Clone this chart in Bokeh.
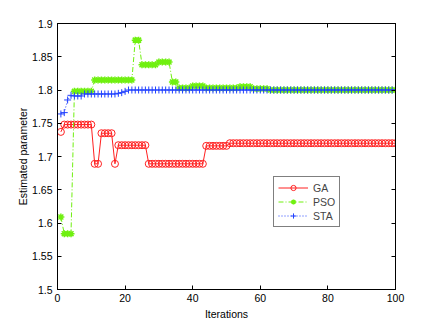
from bokeh.plotting import figure
from bokeh.models import (FixedTicker, LinearAxis, Legend, LegendItem,
                          ColumnDataSource, CustomJSTickFormatter)
from bokeh.embed import file_html
from bokeh.resources import INLINE

iterations = list(range(1, 101))

ga = [1.737,
      1.748, 1.748, 1.748, 1.748, 1.748, 1.748, 1.748, 1.748, 1.748,
      1.689, 1.689,
      1.735, 1.735, 1.735, 1.735,
      1.689,
      1.717, 1.717, 1.717, 1.717, 1.717, 1.717, 1.717, 1.717, 1.717,
      1.689, 1.689, 1.689, 1.689, 1.689, 1.689, 1.689, 1.689, 1.689,
      1.689, 1.689, 1.689, 1.689, 1.689, 1.689, 1.689, 1.689,
      1.716, 1.716, 1.716, 1.716, 1.716, 1.716, 1.716,
      1.720, 1.720, 1.720, 1.720, 1.720, 1.720, 1.720, 1.720, 1.720, 1.720,
      1.720, 1.720, 1.720, 1.720, 1.720, 1.720, 1.720, 1.720, 1.720, 1.720,
      1.720, 1.720, 1.720, 1.720, 1.720, 1.720, 1.720, 1.720, 1.720, 1.720,
      1.720, 1.720, 1.720, 1.720, 1.720, 1.720, 1.720, 1.720, 1.720, 1.720,
      1.720, 1.720, 1.720, 1.720, 1.720, 1.720, 1.720, 1.720, 1.720, 1.720]

pso = [1.609,
       1.584, 1.584, 1.584,
       1.798, 1.798, 1.798, 1.798, 1.798, 1.798,
       1.815, 1.815, 1.815, 1.815, 1.815, 1.815, 1.815, 1.815, 1.815, 1.815, 1.815, 1.815,
       1.875, 1.875,
       1.838, 1.838, 1.838, 1.838, 1.838,
       1.842, 1.842, 1.842, 1.842,
       1.812, 1.812,
       1.803, 1.803, 1.803, 1.803,
       1.806, 1.806, 1.806, 1.806,
       1.803, 1.803, 1.803, 1.803, 1.803, 1.803, 1.803, 1.803, 1.803, 1.803,
       1.805, 1.805, 1.805, 1.805,
       1.802, 1.802, 1.802, 1.802, 1.802,
       1.800, 1.800, 1.800, 1.800, 1.800, 1.800, 1.800, 1.800, 1.800, 1.800,
       1.800, 1.800, 1.800, 1.800, 1.800, 1.800, 1.800, 1.800, 1.800, 1.800,
       1.800, 1.800, 1.800, 1.800, 1.800, 1.800, 1.800, 1.800, 1.800, 1.800,
       1.800, 1.800, 1.800, 1.800, 1.800, 1.800, 1.800, 1.800]

sta = [1.764, 1.766, 1.785, 1.792,
       1.791, 1.791, 1.791,
       1.794, 1.794, 1.794, 1.794, 1.794, 1.794, 1.794, 1.794, 1.794, 1.794,
       1.795, 1.796, 1.798,
       1.800, 1.800, 1.800, 1.800, 1.800, 1.800, 1.800, 1.800, 1.800, 1.800,
       1.800, 1.800, 1.800, 1.800, 1.800, 1.800, 1.800, 1.800, 1.800, 1.800,
       1.800, 1.800, 1.800, 1.800, 1.800, 1.800, 1.800, 1.800, 1.800, 1.800,
       1.800, 1.800, 1.800, 1.800, 1.800, 1.800, 1.800, 1.800, 1.800, 1.800,
       1.800, 1.800, 1.800, 1.800, 1.800, 1.800, 1.800, 1.800, 1.800, 1.800,
       1.800, 1.800, 1.800, 1.800, 1.800, 1.800, 1.800, 1.800, 1.800, 1.800,
       1.800, 1.800, 1.800, 1.800, 1.800, 1.800, 1.800, 1.800, 1.800, 1.800,
       1.800, 1.800, 1.800, 1.800, 1.800, 1.800, 1.800, 1.800, 1.800, 1.800]

x_ticks = [0, 20, 40, 60, 80, 100]
y_ticks = [1.5, 1.55, 1.6, 1.65, 1.7, 1.75, 1.8, 1.85, 1.9]
y_tick_labels = ["1.5", "1.55", "1.6", "1.65", "1.7", "1.75", "1.8", "1.85", "1.9"]
series_names = ["GA", "PSO", "STA"]
x_label = "Iterations"
y_label = "Estimated parameter"

FONT = "Liberation Sans"
RED = "#ff2020"
GREEN = "#70f010"
BLUE = "#2040ff"

p = figure(width=430, height=322, x_range=(0, 100), y_range=(1.5, 1.9),
           output_backend="svg", toolbar_location=None,
           min_border_left=57, min_border_right=35,
           min_border_top=23, min_border_bottom=32)
p.xgrid.visible = False
p.ygrid.visible = False
p.outline_line_color = "black"
p.outline_line_width = 1
p.background_fill_color = "white"
p.border_fill_color = "white"

src = ColumnDataSource(dict(x=iterations, ga=ga, pso=pso, sta=sta))

ga_l = p.line("x", "ga", source=src, line_color=RED, line_width=1)
ga_m = p.scatter("x", "ga", source=src, marker="circle", size=7,
                 line_color=RED, fill_color=None, line_width=1)
pso_l = p.line("x", "pso", source=src, line_color=GREEN, line_width=1,
               line_dash="5 2 1 2")
pso_m = p.scatter("x", "pso", source=src, marker="asterisk", size=7,
                  line_color=GREEN, line_width=1.5)
sta_l = p.line("x", "sta", source=src, line_color=BLUE, line_width=1,
               line_dash="1 2")
sta_m = p.scatter("x", "sta", source=src, marker="cross", size=7,
                  line_color=BLUE, line_width=1)


def style_axis(ax, ticks):
    ax.ticker = FixedTicker(ticks=ticks)
    ax.major_tick_in = 4
    ax.major_tick_out = 0
    ax.minor_tick_line_color = None
    ax.axis_line_color = "black"
    ax.major_tick_line_color = "black"
    ax.major_label_text_font = FONT
    ax.major_label_text_font_size = "10.5px"
    ax.major_label_text_color = "black"
    ax.axis_label_text_font = FONT
    ax.axis_label_text_font_size = "10.5px"
    ax.axis_label_text_font_style = "normal"
    ax.axis_label_text_color = "black"


style_axis(p.xaxis[0], x_ticks)
style_axis(p.yaxis[0], y_ticks)
p.xaxis[0].axis_label = x_label
p.yaxis[0].axis_label = y_label
p.xaxis[0].major_label_standoff = 4
p.xaxis[0].axis_label_standoff = 3
p.yaxis[0].major_label_standoff = 5
p.yaxis[0].axis_label_standoff = 0
p.yaxis[0].major_label_overrides = {t: s for t, s in zip(y_ticks, y_tick_labels)}

blank = CustomJSTickFormatter(code="return '';")

right_ax = LinearAxis(formatter=blank)
style_axis(right_ax, y_ticks)
right_ax.major_label_standoff = 0
p.add_layout(right_ax, "right")

top_ax = LinearAxis(formatter=blank)
style_axis(top_ax, x_ticks)
top_ax.major_label_standoff = 0
p.add_layout(top_ax, "above")

legend = Legend(items=[
    LegendItem(label=series_names[0], renderers=[ga_l, ga_m]),
    LegendItem(label=series_names[1], renderers=[pso_l, pso_m]),
    LegendItem(label=series_names[2], renderers=[sta_l, sta_m]),
], location=(216, 62))
legend.border_line_color = "black"
legend.border_line_width = 1
legend.background_fill_color = "white"
legend.background_fill_alpha = 1
legend.padding = 4
legend.spacing = 1
legend.margin = 0
legend.label_standoff = 5
legend.glyph_width = 30
legend.glyph_height = 13
legend.label_height = 13
legend.label_text_font = FONT
legend.label_text_font_size = "10.5px"
p.add_layout(legend, "center")

open("out.html", "w").write(file_html(p, INLINE))
